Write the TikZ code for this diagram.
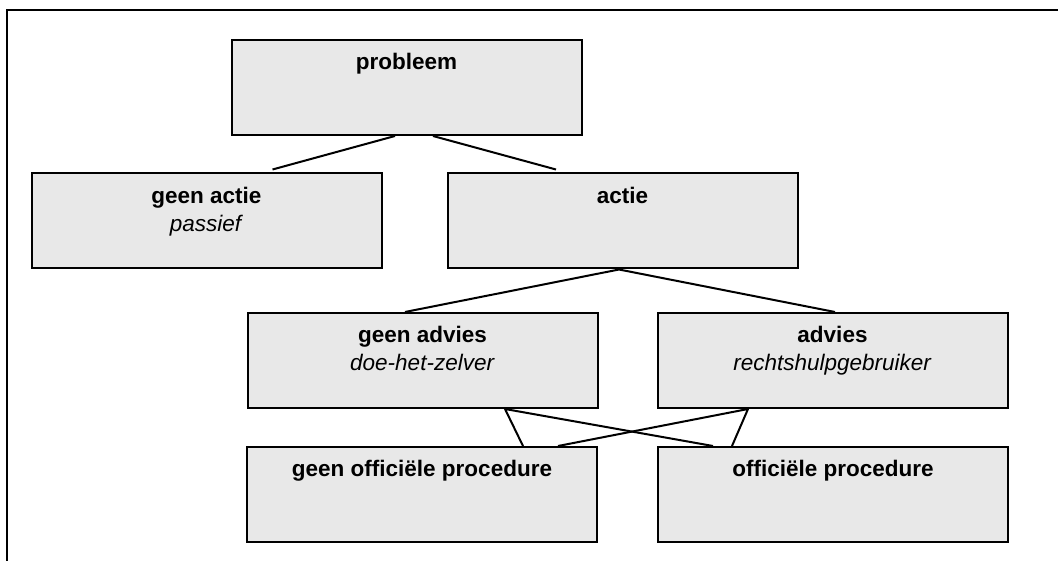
\documentclass[tikz,border=0pt]{standalone}
\usepackage{fontspec}
\setmainfont{Liberation Sans}
\usetikzlibrary{calc}
\definecolor{boxgray}{RGB}{232,232,232}

\begin{document}
\begin{tikzpicture}[x=1pt,y=-1pt,
  font=\fontsize{22.5}{28}\selectfont,
  box/.style={draw=black,fill=boxgray,line width=2pt,minimum width=350pt,minimum height=95pt,inner sep=0pt},
  txt/.style={anchor=north,align=center,inner sep=0pt,yshift=-14pt},
  link/.style={line width=2pt,color=black}]
\useasboundingbox (0,0) rectangle (1058,561);

\draw[line width=2.5pt] (1058,10) -- (7,10) -- (7,561);

\node[box,label={[txt]north:\textbf{probleem}}] (P) at (406.5,87.5) {};
\node[box,label={[txt]north:\textbf{geen actie}\\\textit{passief}}] (GA) at (206.5,221) {};
\node[box,label={[txt]north:\textbf{actie}}] (A) at (622.5,221) {};
\node[box,label={[txt]north:\textbf{geen advies}\\\textit{doe-het-zelver}}] (GAD) at (422.5,360.5) {};
\node[box,label={[txt]north:\textbf{advies}\\\textit{rechtshulpgebruiker}}] (AD) at (832.5,360.5) {};
\node[box,label={[txt]north:\textbf{geen officiële procedure}}] (GOP) at (422,494.5) {};
\node[box,label={[txt]north:\textbf{officiële procedure}}] (OP) at (833,494.5) {};

\coordinate (P1) at ($(P.south)+(-11.5,0)$);
\coordinate (P2) at ($(P.south)+(26.5,0)$);
\coordinate (GA1) at ($(GA.north)+(66,-3)$);
\coordinate (A1) at ($(A.north)+(-66.5,-3)$);
\coordinate (A2) at ($(A.south)+(-3.5,0)$);
\coordinate (GAD1) at ($(GAD.north)+(-17.5,0)$);
\coordinate (AD1) at ($(AD.north)+(2.5,0)$);
\coordinate (GAD2) at ($(GAD.south)+(82.5,0)$);
\coordinate (AD2) at ($(AD.south)+(-84.5,0)$);
\coordinate (GOP1) at ($(GOP.north)+(101,0)$);
\coordinate (GOP2) at ($(GOP.north)+(136,0)$);
\coordinate (OP1) at ($(OP.north)+(-120,0)$);
\coordinate (OP2) at ($(OP.north)+(-101,0)$);

\draw[link] (P1) -- (GA1);
\draw[link] (P2) -- (A1);
\draw[link] (A2) -- (GAD1);
\draw[link] (A2) -- (AD1);
\draw[link] (GOP1) -- (GAD2) -- (OP1);
\draw[link] (GOP2) -- (AD2) -- (OP2);

\end{tikzpicture}
\end{document}
